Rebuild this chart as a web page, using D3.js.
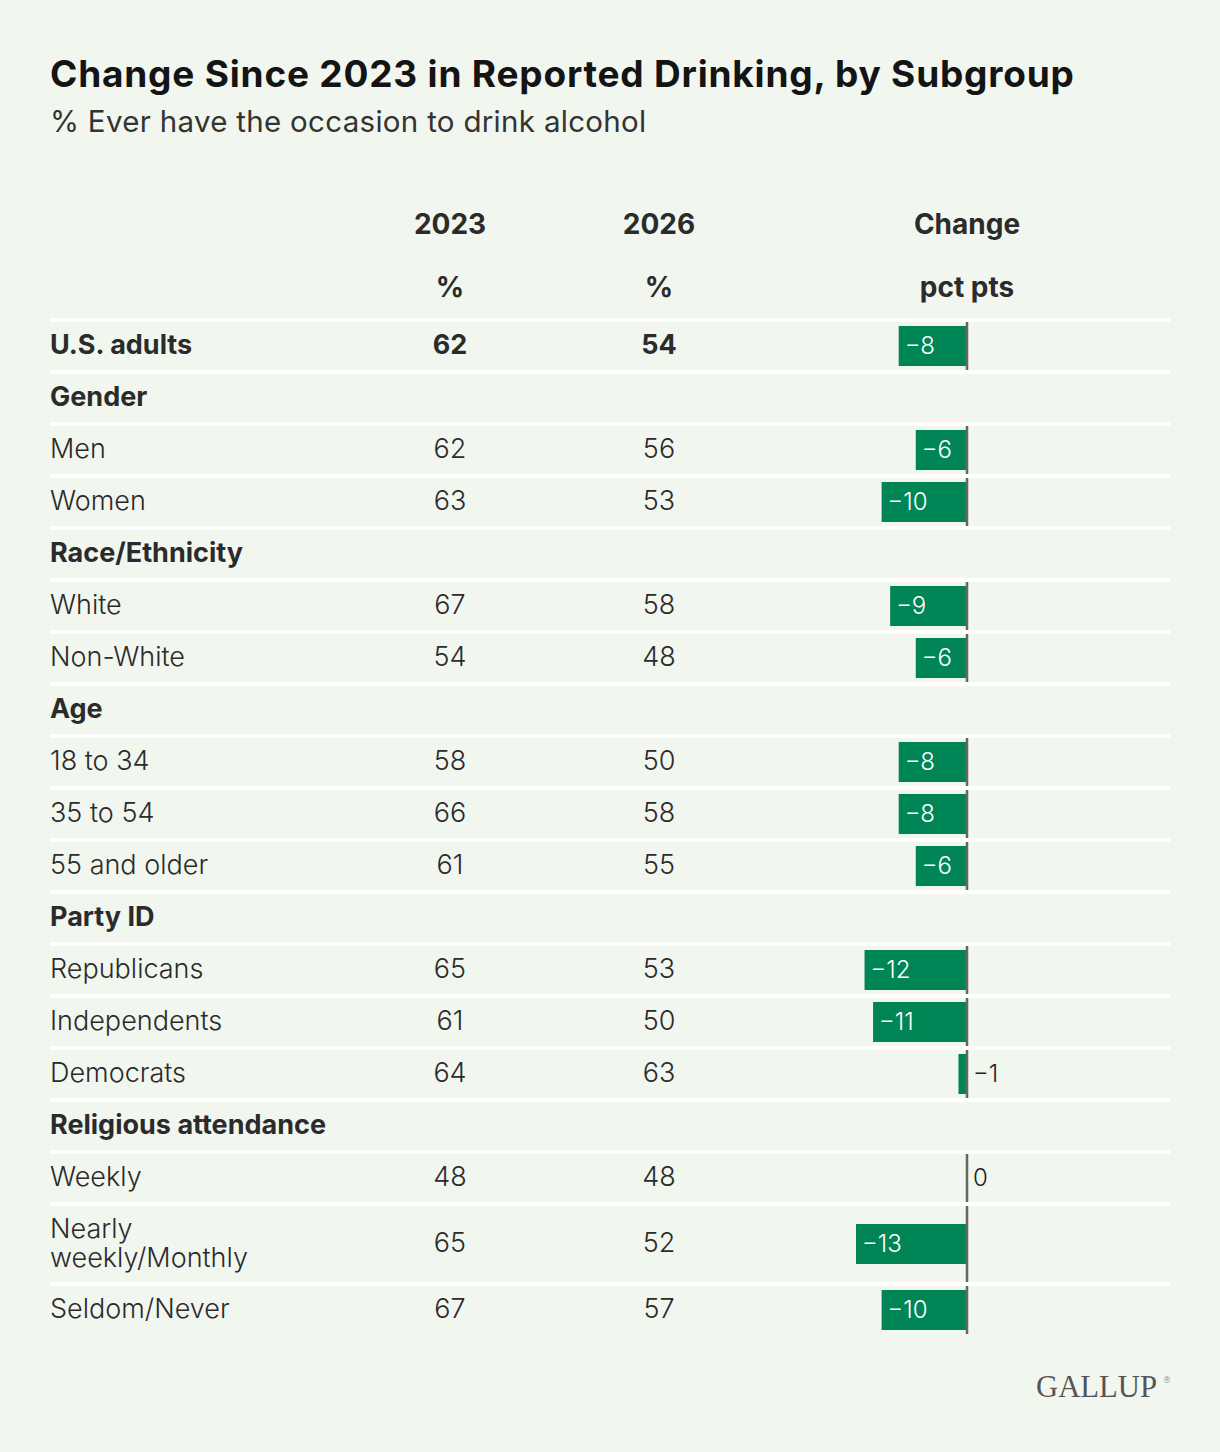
<!DOCTYPE html>
<html>
<head>
<meta charset="utf-8">
<script src="https://cdn.jsdelivr.net/npm/d3@7"></script>
<style>
  html, body { margin: 0; padding: 0; background: #f1f6ef; }
  svg { display: block; }
  .sans { font-family: Inter, Roboto, "Noto Sans", sans-serif; }
</style>
</head>
<body>
<svg id="chart" width="1220" height="1452"></svg>
<script>
// row labels, "group" rows are the bold section headers
const labels = ["U.S. adults", "Gender", "Men", "Women", "Race/Ethnicity", "White", "Non-White",
  "Age", "18 to 34", "35 to 54", "55 and older", "Party ID", "Republicans", "Independents", "Democrats",
  "Religious attendance", "Weekly", "Nearly\nweekly/Monthly", "Seldom/Never"];
const rowKind = ["total", "group", "row", "row", "group", "row", "row",
  "group", "row", "row", "row", "group", "row", "row", "row",
  "group", "row", "row", "row"];
const pct2023 = [62, null, 62, 63, null, 67, 54, null, 58, 66, 61, null, 65, 61, 64, null, 48, 65, 67];
const pct2026 = [54, null, 56, 53, null, 58, 48, null, 50, 58, 55, null, 53, 50, 63, null, 48, 52, 57];
const change = [-8, null, -6, -10, null, -9, -6, null, -8, -8, -6, null, -12, -11, -1, null, 0, -13, -10];
const colHeads = ["2023", "2026", "Change"];
const colSubs = ["%", "%", "pct pts"];

const svg = d3.select("#chart");
const green = "#008656";
const ink = "#2b2b2b";

svg.append("text").attr("class", "sans").attr("x", 50).attr("y", 87)
  .attr("font-size", 37).attr("font-weight", 700).attr("fill", "#141414")
  .attr("letter-spacing", 0.8)
  .text("Change Since 2023 in Reported Drinking, by Subgroup");
svg.append("text").attr("class", "sans").attr("x", 50).attr("y", 132)
  .attr("font-size", 29.5).attr("font-weight", 400).attr("fill", "#333")
  .attr("letter-spacing", 0.3)
  .text("% Ever have the occasion to drink alcohol");

const colX = [450, 659, 967];
colHeads.forEach((h, i) => {
  svg.append("text").attr("class", "sans").attr("x", colX[i]).attr("y", 234).attr("text-anchor", "middle")
    .attr("font-size", 28).attr("font-weight", 700).attr("fill", ink).text(h);
  svg.append("text").attr("class", "sans").attr("x", colX[i]).attr("y", 297).attr("text-anchor", "middle")
    .attr("font-size", 28).attr("font-weight", 700).attr("fill", ink).text(colSubs[i]);
});

// rows: top = centre of the white rule above the row
const rows = labels.map((l, i) => ({ label: l, kind: rowKind[i], a: pct2023[i], b: pct2026[i], c: change[i],
  h: l.includes("\n") ? 80 : 52 }));
let rowTop = 320;
rows.forEach(r => { r.top = rowTop; rowTop += r.h; });

const x = d3.scaleLinear().domain([-13, 0]).range([856, 967]);

const g = svg.append("g");
g.selectAll("line.sep").data(rows).join("line")
  .attr("class", "sep")
  .attr("x1", 50).attr("x2", 1170)
  .attr("y1", d => d.top).attr("y2", d => d.top)
  .attr("stroke", "#ffffff").attr("stroke-width", 4);

const rg = g.selectAll("g.row").data(rows).join("g").attr("class", "row")
  .attr("transform", d => `translate(0,${d.top})`);

rg.each(function(d) {
  const s = d3.select(this);
  const bold = d.kind !== "row";
  const mid = d.h / 2;
  const lines = d.label.split("\n");
  const t = s.append("text").attr("class", "sans").attr("x", 50).attr("font-size", 27)
    .attr("font-weight", bold ? 700 : 300).attr("fill", ink);
  lines.forEach((ln, k) => {
    t.append("tspan").attr("x", 50)
      .attr("y", mid + 8 + (k - (lines.length - 1) / 2) * 29).text(ln);
  });
  if (d.kind === "group") return;
  [d.a, d.b].forEach((v, i) => {
    s.append("text").attr("class", "sans").attr("x", colX[i]).attr("y", mid + 8).attr("text-anchor", "middle")
      .attr("font-size", 27).attr("font-weight", bold ? 700 : 300).attr("fill", ink).text(v);
  });
  if (d.c < 0) {
    s.append("rect").attr("x", x(d.c)).attr("y", mid - 20)
      .attr("width", x(0) - x(d.c)).attr("height", 40).attr("fill", green);
  }
  s.append("line").attr("x1", x(0)).attr("x2", x(0)).attr("y1", 2).attr("y2", d.h - 2)
    .attr("stroke", "#666").attr("stroke-width", 2.5);
  const inside = x(0) - x(d.c) > 40;
  s.append("text").attr("class", "sans")
    .attr("x", inside ? x(d.c) + 6 : x(0) + 6)
    .attr("y", mid + 8).attr("font-size", 24).attr("font-weight", 300)
    .attr("fill", inside ? "#ffffff" : "#222")
    .text(d.c < 0 ? "\u2212" + Math.abs(d.c) : d.c);
});

svg.append("text").attr("x", 1036).attr("y", 1397)
  .style("font-family", "'Liberation Serif', 'DejaVu Serif', serif").attr("font-size", 32)
  .attr("textLength", 121).attr("lengthAdjust", "spacingAndGlyphs")
  .attr("fill", "#555").text("GALLUP");
svg.append("text").attr("x", 1163).attr("y", 1383)
  .style("font-family", "'DejaVu Sans', sans-serif").attr("font-size", 8)
  .attr("fill", "#999").text("\u00ae");
</script>
</body>
</html>
